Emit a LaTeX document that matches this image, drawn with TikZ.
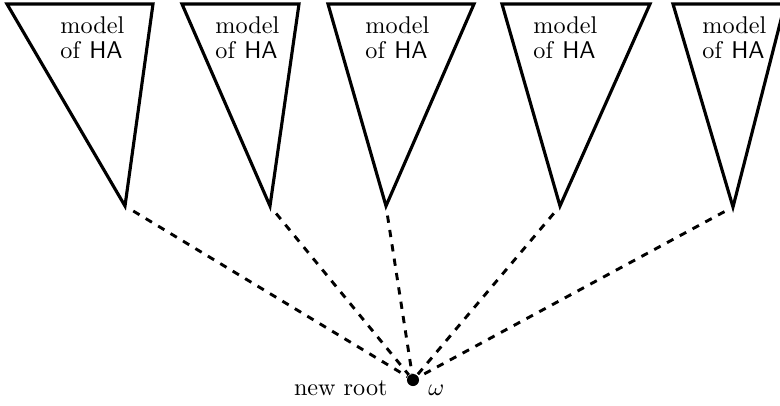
\documentclass[tikz,border=0pt]{standalone}
\begin{document}
\begin{tikzpicture}[x=0.4132pt,y=-0.4132pt,
    tree/.style={line width=1.3pt,line join=miter},
    link/.style={very thick,dashed},
    modeltext/.style={anchor=north west,inner sep=0pt,align=left}]
  \useasboundingbox (0,0) rectangle (780,405);
  \clip (0,0) rectangle (780,405);
  % the five models
  \draw[tree] (7,4) -- (153,4) -- (125,206) coordinate (a1) -- cycle;
  \draw[tree] (182,4) -- (299,4) -- (270,206) coordinate (a2) -- cycle;
  \draw[tree] (328,4) -- (474,4) -- (386,206) coordinate (a3) -- cycle;
  \draw[tree] (502,4) -- (650,4) -- (560,206) coordinate (a4) -- cycle;
  \draw[tree] (673,4) -- (785,4) -- (733,207) coordinate (a5) -- cycle;
  \node[modeltext] (m1) at (60,16) {model\\[-1.7pt]of \textsf{HA}};
  \node[modeltext] (m2) at (215,16) {model\\[-1.7pt]of \textsf{HA}};
  \node[modeltext] (m3) at (365,16) {model\\[-1.7pt]of \textsf{HA}};
  \node[modeltext] (m4) at (533,16) {model\\[-1.7pt]of \textsf{HA}};
  \node[modeltext] (m5) at (702,16) {model\\[-1.7pt]of \textsf{HA}};
  % the new root
  \node[circle,fill,inner sep=0pt,minimum size=5pt] (root) at (413,380) {};
  \node[anchor=base east,inner sep=0pt] (newroot) at (388,395) {new root};
  \node[anchor=base west,inner sep=0pt] (omega) at (428,395) {$\omega$};
  \begin{scope}[link]
    \draw[shorten <=4pt] (a1) -- (root);
    \draw[shorten <=4pt] (a2) -- (root);
    \draw[shorten <=4pt] (a3) -- (root);
    \draw[shorten <=4pt] (a4) -- (root);
    \draw[shorten <=4pt] (a5) -- (root);
  \end{scope}
\end{tikzpicture}
\end{document}
